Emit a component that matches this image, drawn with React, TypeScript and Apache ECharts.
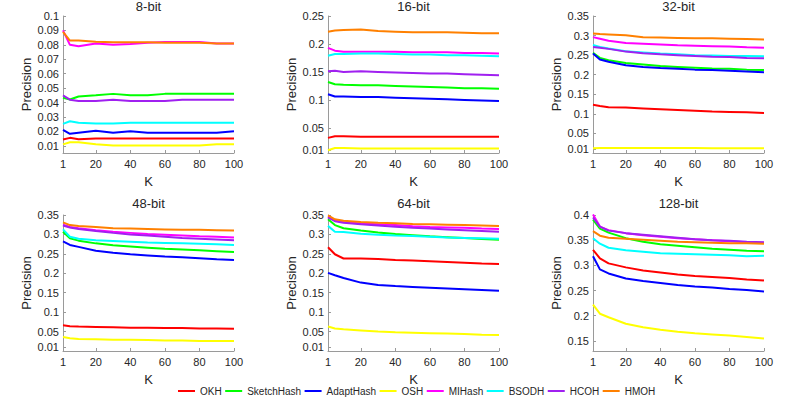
import React, { useEffect, useRef } from "react";
import * as echarts from "echarts";

const K = [1, 5, 10, 20, 30, 40, 50, 60, 70, 80, 90, 100];
const xTicks = [1, 20, 40, 60, 80, 100];
const titles = ["8-bit", "16-bit", "32-bit", "48-bit", "64-bit", "128-bit"];
const methods = ["OKH", "SketchHash", "AdaptHash", "OSH", "MIHash", "BSODH", "HCOH", "HMOH"];
const colors = ["#ff0000", "#00ff00", "#0000ff", "#ffff00", "#ff00ff", "#00ffff", "#a020f0", "#ff8000"];

const yMin = [0.005, 0.005, 0, 0, 0, 0.13];
const yMax = [0.1, 0.25, 0.35, 0.35, 0.35, 0.4];
const yTicks = [
  [0.01, 0.02, 0.03, 0.04, 0.05, 0.06, 0.07, 0.08, 0.09, 0.1],
  [0.01, 0.05, 0.1, 0.15, 0.2, 0.25],
  [0.01, 0.05, 0.1, 0.15, 0.2, 0.25, 0.3, 0.35],
  [0.01, 0.05, 0.1, 0.15, 0.2, 0.25, 0.3, 0.35],
  [0.01, 0.05, 0.1, 0.15, 0.2, 0.25, 0.3, 0.35],
  [0.15, 0.2, 0.25, 0.3, 0.35, 0.4],
];

// rows: 8, 16, 32, 48, 64, 128 bit
const OKH = [
  [0.0144, 0.0155, 0.0145, 0.015, 0.015, 0.015, 0.015, 0.015, 0.015, 0.015, 0.015, 0.015],
  [0.032, 0.035, 0.035, 0.034, 0.034, 0.034, 0.034, 0.034, 0.034, 0.034, 0.034, 0.034],
  [0.123, 0.12, 0.117, 0.116, 0.114, 0.112, 0.11, 0.108, 0.106, 0.105, 0.104, 0.102],
  [0.066, 0.064, 0.063, 0.062, 0.061, 0.06, 0.06, 0.059, 0.059, 0.058, 0.058, 0.057],
  [0.267, 0.249, 0.238, 0.238, 0.237, 0.234, 0.233, 0.231, 0.229, 0.227, 0.225, 0.224],
  [0.331, 0.314, 0.304, 0.296, 0.29, 0.286, 0.282, 0.279, 0.277, 0.275, 0.272, 0.27],
];
const SketchHash = [
  [0.0433, 0.0421, 0.0442, 0.045, 0.046, 0.045, 0.045, 0.046, 0.046, 0.046, 0.046, 0.046],
  [0.132, 0.128, 0.127, 0.126, 0.126, 0.125, 0.124, 0.123, 0.122, 0.121, 0.121, 0.12],
  [0.256, 0.243, 0.237, 0.23, 0.226, 0.222, 0.22, 0.218, 0.216, 0.215, 0.213, 0.212],
  [0.307, 0.29, 0.284, 0.277, 0.272, 0.269, 0.266, 0.263, 0.261, 0.259, 0.257, 0.255],
  [0.339, 0.324, 0.316, 0.31, 0.305, 0.301, 0.298, 0.295, 0.293, 0.291, 0.288, 0.286],
  [0.391, 0.373, 0.365, 0.354, 0.347, 0.342, 0.339, 0.336, 0.333, 0.331, 0.329, 0.328],
];
const AdaptHash = [
  [0.021, 0.0183, 0.019, 0.0204, 0.019, 0.02, 0.019, 0.019, 0.019, 0.019, 0.019, 0.02],
  [0.11, 0.106, 0.106, 0.105, 0.105, 0.104, 0.103, 0.102, 0.101, 0.1, 0.099, 0.098],
  [0.254, 0.239, 0.233, 0.224, 0.22, 0.217, 0.215, 0.213, 0.212, 0.21, 0.208, 0.206],
  [0.282, 0.273, 0.268, 0.258, 0.253, 0.249, 0.246, 0.243, 0.241, 0.239, 0.236, 0.234],
  [0.201, 0.195, 0.188, 0.176, 0.17, 0.167, 0.165, 0.163, 0.161, 0.159, 0.157, 0.155],
  [0.318, 0.292, 0.284, 0.274, 0.269, 0.265, 0.261, 0.258, 0.256, 0.253, 0.251, 0.248],
];
const OSH = [
  [0.011, 0.0125, 0.0125, 0.011, 0.0102, 0.0102, 0.0102, 0.0102, 0.0102, 0.0102, 0.011, 0.011],
  [0.01, 0.014, 0.014, 0.013, 0.013, 0.013, 0.013, 0.013, 0.013, 0.013, 0.013, 0.013],
  [0.012, 0.0125, 0.013, 0.013, 0.013, 0.013, 0.013, 0.013, 0.012, 0.012, 0.012, 0.012],
  [0.036, 0.033, 0.031, 0.03, 0.029, 0.029, 0.028, 0.027, 0.027, 0.026, 0.026, 0.026],
  [0.063, 0.058, 0.056, 0.053, 0.05, 0.048, 0.047, 0.046, 0.045, 0.044, 0.042, 0.041],
  [0.222, 0.204, 0.197, 0.184, 0.177, 0.172, 0.168, 0.165, 0.163, 0.161, 0.158, 0.155],
];
const MIHash = [
  [0.09, 0.08, 0.079, 0.081, 0.08, 0.0805, 0.0815, 0.082, 0.082, 0.082, 0.081, 0.081],
  [0.193, 0.188, 0.186, 0.186, 0.186, 0.186, 0.185, 0.185, 0.185, 0.184, 0.184, 0.183],
  [0.296, 0.292, 0.287, 0.281, 0.279, 0.277, 0.275, 0.274, 0.273, 0.272, 0.27, 0.269],
  [0.325, 0.319, 0.316, 0.311, 0.307, 0.304, 0.301, 0.299, 0.297, 0.295, 0.294, 0.292],
  [0.346, 0.336, 0.332, 0.328, 0.326, 0.324, 0.321, 0.319, 0.318, 0.317, 0.315, 0.314],
  [0.401, 0.377, 0.37, 0.364, 0.36, 0.357, 0.354, 0.352, 0.35, 0.348, 0.346, 0.345],
];
const BSODH = [
  [0.0252, 0.027, 0.026, 0.0255, 0.0255, 0.026, 0.026, 0.026, 0.026, 0.026, 0.026, 0.026],
  [0.179, 0.182, 0.182, 0.183, 0.183, 0.182, 0.181, 0.181, 0.18, 0.18, 0.179, 0.178],
  [0.276, 0.271, 0.267, 0.26, 0.257, 0.254, 0.252, 0.25, 0.249, 0.248, 0.248, 0.247],
  [0.313, 0.294, 0.289, 0.285, 0.283, 0.281, 0.279, 0.278, 0.277, 0.276, 0.275, 0.273],
  [0.322, 0.307, 0.306, 0.302, 0.299, 0.297, 0.296, 0.294, 0.292, 0.291, 0.29, 0.289],
  [0.354, 0.343, 0.335, 0.33, 0.327, 0.324, 0.323, 0.322, 0.321, 0.32, 0.318, 0.319],
];
const HCOH = [
  [0.045, 0.042, 0.041, 0.041, 0.042, 0.041, 0.041, 0.041, 0.042, 0.042, 0.042, 0.042],
  [0.151, 0.152, 0.15, 0.151, 0.15, 0.149, 0.148, 0.147, 0.147, 0.146, 0.145, 0.144],
  [0.271, 0.269, 0.266, 0.259, 0.255, 0.252, 0.25, 0.248, 0.246, 0.245, 0.243, 0.242],
  [0.323, 0.318, 0.314, 0.309, 0.304, 0.3, 0.297, 0.294, 0.291, 0.289, 0.287, 0.285],
  [0.344, 0.334, 0.33, 0.326, 0.323, 0.32, 0.317, 0.315, 0.313, 0.311, 0.309, 0.307],
  [0.395, 0.377, 0.369, 0.364, 0.361, 0.358, 0.355, 0.352, 0.35, 0.349, 0.347, 0.346],
];
const HMOH = [
  [0.089, 0.083, 0.083, 0.0822, 0.0818, 0.0818, 0.0818, 0.0815, 0.0815, 0.0815, 0.081, 0.081],
  [0.222, 0.224, 0.225, 0.226, 0.223, 0.222, 0.221, 0.221, 0.221, 0.22, 0.219, 0.219],
  [0.305, 0.304, 0.303, 0.301, 0.296, 0.295, 0.294, 0.293, 0.293, 0.292, 0.291, 0.29],
  [0.331, 0.324, 0.322, 0.319, 0.316, 0.315, 0.314, 0.313, 0.312, 0.312, 0.311, 0.31],
  [0.349, 0.339, 0.335, 0.332, 0.33, 0.329, 0.327, 0.326, 0.325, 0.324, 0.323, 0.322],
  [0.368, 0.359, 0.355, 0.353, 0.351, 0.349, 0.347, 0.346, 0.345, 0.344, 0.344, 0.343],
];

const allData = [OKH, SketchHash, AdaptHash, OSH, MIHash, BSODH, HCOH, HMOH];

const FONT = "'Liberation Sans', Arial, Helvetica, sans-serif";
const TXT = "#262626";
const AX = "#9a9a9a";

export default function App() {
  const ref = useRef<HTMLDivElement>(null);
  useEffect(() => {
    if (!ref.current) return;
    const chart = echarts.init(ref.current, null, { renderer: "svg" });
    const lefts = [63, 328, 593];
    const tops = [16, 215];
    const heights = [137, 136];
    const W = 171;
    const grids: any[] = [];
    const xAxes: any[] = [];
    const yAxes: any[] = [];
    const titleArr: any[] = [];
    const series: any[] = [];
    for (let i = 0; i < 6; i++) {
      const r = Math.floor(i / 3);
      const c = i % 3;
      grids.push({ left: lefts[c], top: tops[r], width: W, height: heights[r], containLabel: false });
      titleArr.push({
        text: titles[i],
        left: lefts[c] + W / 2,
        top: r === 0 ? 0 : 197,
        textAlign: "center",
        textStyle: { fontFamily: FONT, fontSize: 13, fontWeight: "normal", color: TXT },
        padding: 0,
      });
      xAxes.push({
        type: "value",
        gridIndex: i,
        min: 1,
        max: 100,
        name: "K",
        nameLocation: "middle",
        nameGap: 22,
        nameTextStyle: { fontFamily: FONT, fontSize: 13, color: TXT },
        axisLine: { show: true, lineStyle: { color: AX, width: 1 } },
        axisTick: { show: true, inside: true, length: 3, lineStyle: { color: AX }, customValues: xTicks },
        axisLabel: { fontFamily: FONT, fontSize: 11, color: TXT, margin: 5, customValues: xTicks },
        splitLine: { show: false },
      });
      yAxes.push({
        type: "value",
        gridIndex: i,
        min: yMin[i],
        max: yMax[i],
        name: "Precision",
        nameLocation: "middle",
        nameGap: 30,
        nameRotate: 90,
        nameTextStyle: { fontFamily: FONT, fontSize: 13, color: TXT },
        axisLine: { show: true, lineStyle: { color: AX, width: 1 } },
        axisTick: { show: true, inside: true, length: 3, lineStyle: { color: AX }, customValues: yTicks[i] },
        axisLabel: {
          fontFamily: FONT,
          fontSize: 11,
          color: TXT,
          margin: 4,
          customValues: yTicks[i],
          formatter: (v: number) => String(parseFloat(Number(v).toFixed(3))),
        },
        splitLine: { show: false },
      });
      methods.forEach((m, j) => {
        series.push({
          type: "line",
          name: m,
          xAxisIndex: i,
          yAxisIndex: i,
          data: K.map((k, n) => [k, allData[j][i][n]]),
          symbol: "none",
          lineStyle: { width: 2, color: colors[j] },
          itemStyle: { color: colors[j] },
          z: 2 + j,
        });
      });
    }
    chart.setOption({
      animation: false,
      backgroundColor: "#ffffff",
      title: titleArr,
      grid: grids,
      xAxis: xAxes,
      yAxis: yAxes,
      legend: {
        data: methods,
        left: 178,
        top: 386,
        icon: "rect",
        itemWidth: 17,
        itemHeight: 2,
        itemGap: 3.5,
        padding: 0,
        textStyle: { fontFamily: FONT, fontSize: 10, color: TXT },
      },
      series,
    });
    return () => chart.dispose();
  }, []);
  return (
    <div
      ref={ref}
      style={{ position: "fixed", left: 0, top: 0, width: 800, height: 399, background: "#fff" }}
    />
  );
}
